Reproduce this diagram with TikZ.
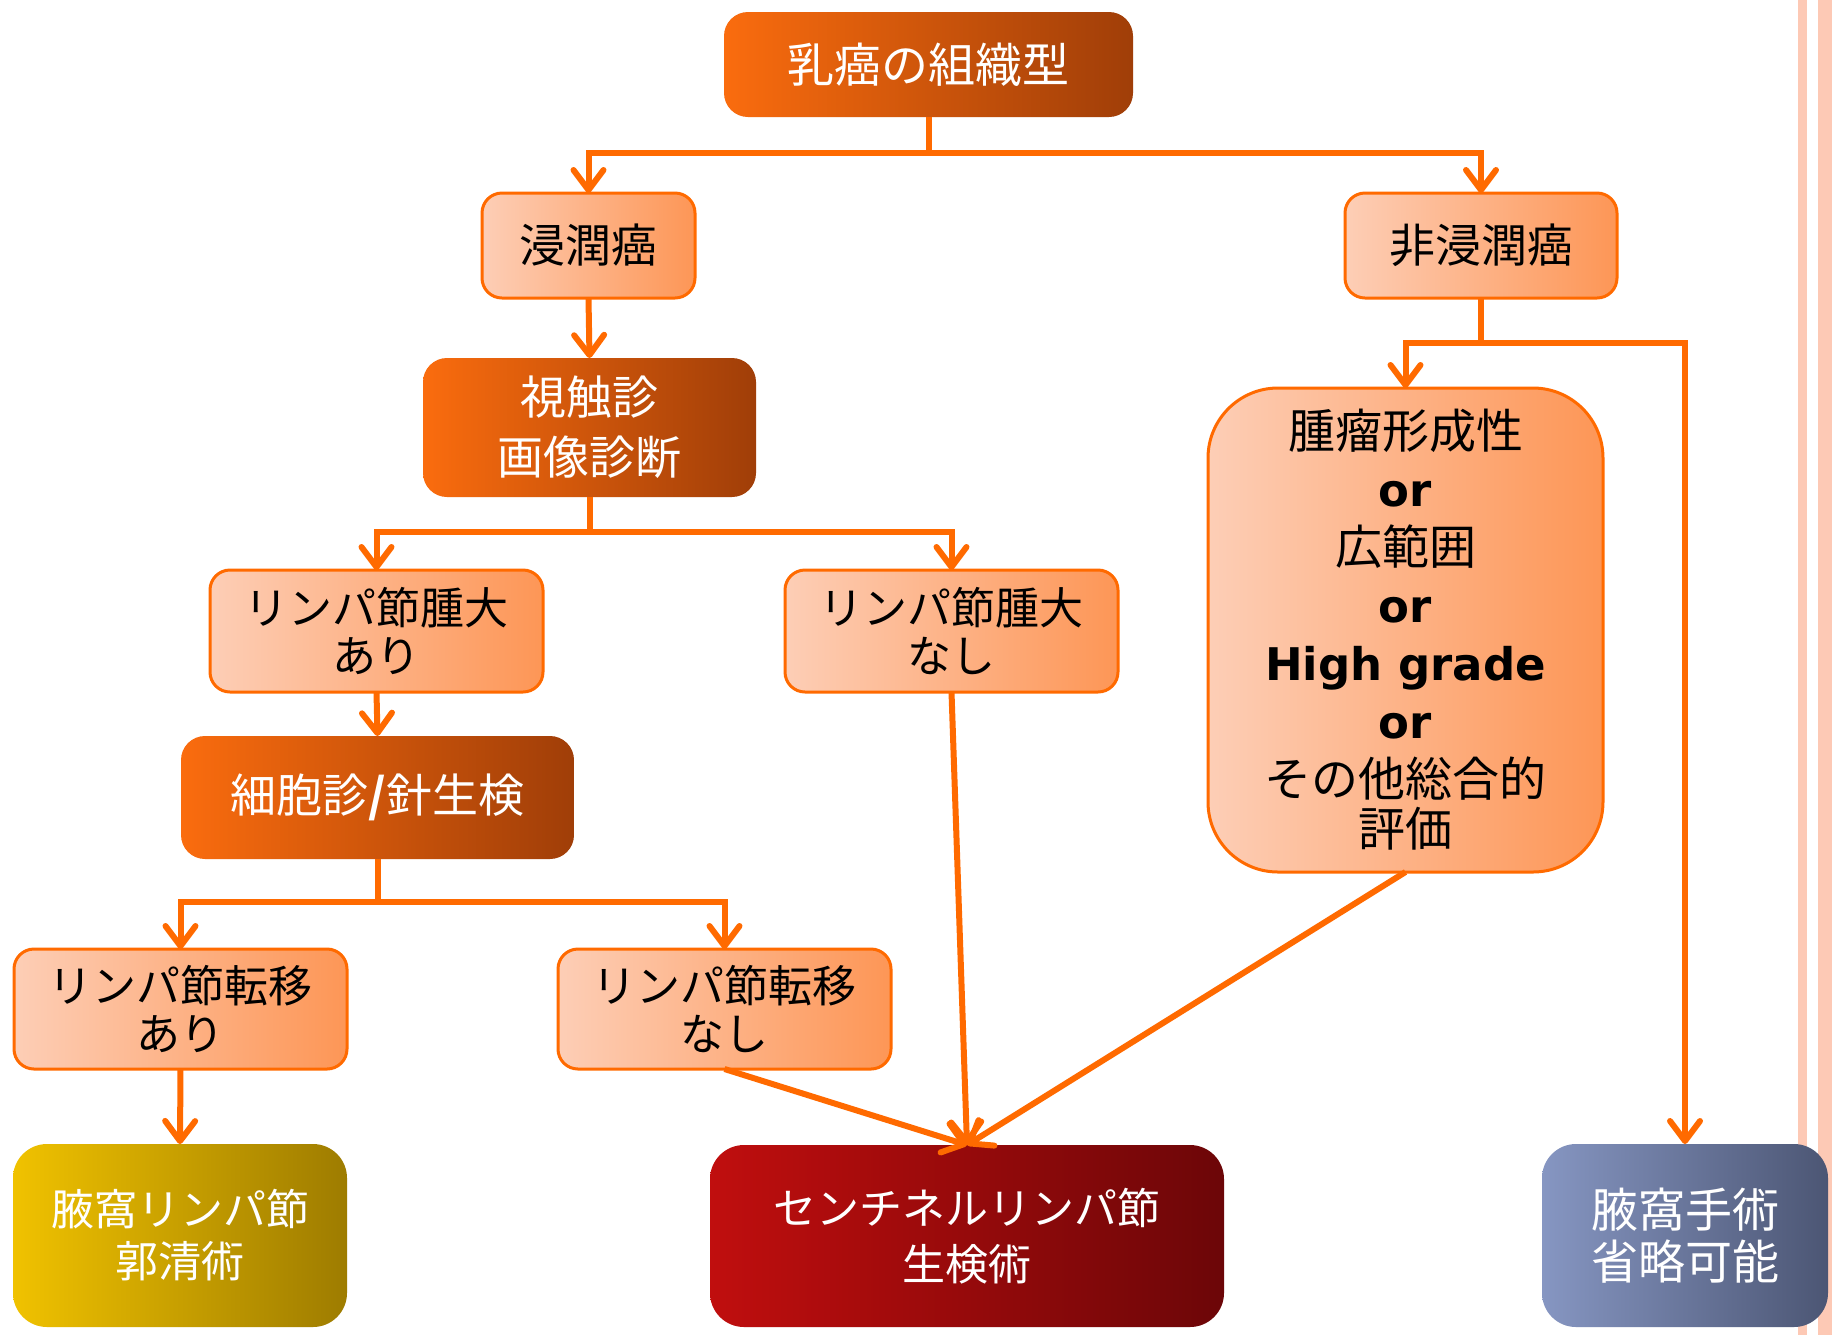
\documentclass[tikz,border=0pt]{standalone}
\usepackage{fontspec}
\setmainfont{Noto Sans CJK JP}
\newfontfamily\latinb{DejaVu Sans}
\usetikzlibrary{arrows.meta}
\definecolor{ln}{RGB}{255,106,0}
\definecolor{dko1}{RGB}{250,108,14}
\definecolor{dko2}{RGB}{160,62,8}
\definecolor{lt1}{RGB}{253,206,182}
\definecolor{lt2}{RGB}{253,150,86}
\definecolor{yl1}{RGB}{240,194,0}
\definecolor{yl2}{RGB}{158,124,0}
\definecolor{rd1}{RGB}{192,14,14}
\definecolor{rd2}{RGB}{108,6,8}
\definecolor{gb1}{RGB}{134,150,194}
\definecolor{gb2}{RGB}{76,86,116}
\definecolor{pinkbar}{RGB}{253,201,181}
\tikzset{
  base/.style={align=center, inner sep=0pt, outer sep=0pt},
  darkbox/.style={base, rounded corners=12pt, left color=dko1, right color=dko2, text=white, font=\fontsize{23}{30}\selectfont},
  lightbox/.style={base, draw=ln, line width=1.5pt, rounded corners=10pt, left color=lt1, right color=lt2, text=black, font=\fontsize{22}{24}\selectfont},
  yellowbox/.style={base, rounded corners=17pt, left color=yl1, right color=yl2, text=white, font=\fontsize{21.5}{26}\selectfont},
  redbox/.style={base, rounded corners=17pt, left color=rd1, right color=rd2, text=white, font=\fontsize{21.5}{28}\selectfont},
  graybox/.style={base, rounded corners=17pt, left color=gb1, right color=gb2, text=white, font=\fontsize{23.5}{26}\selectfont},
  wire/.style={draw=ln, line width=3pt},
  conn/.style={wire, -{Straight Barb[length=10pt,width=15pt,round]}}
}
\begin{document}
\begin{tikzpicture}[x=0.5pt,y=-0.5pt]
\useasboundingbox (0,0) rectangle (1832,1335);
\fill[white] (0,0) rectangle (1832,1335);
\fill[pinkbar] (1798,0) rectangle (1807,1335);
\fill[pinkbar] (1818,0) rectangle (1832,1335);

% nodes
\node[darkbox, font=\fontsize{23.5}{30}\selectfont, minimum width=204.5pt, minimum height=52.5pt] (top) at (928.5,64.5) {乳癌の組織型};
\node[lightbox, font=\fontsize{23}{28}\selectfont, minimum width=106.5pt, minimum height=52.5pt] (inv) at (588.5,245.5) {浸潤癌};
\node[lightbox, font=\fontsize{23}{28}\selectfont, minimum width=136pt, minimum height=52.5pt] (noninv) at (1481,245.5) {非浸潤癌};
\node[darkbox, minimum width=166.5pt, minimum height=69.5pt] (exam) at (589.5,427.5) {視触診\\画像診断};
\node[lightbox, minimum width=166.5pt, minimum height=61pt] (lnA) at (376.5,631) {リンパ節腫大\\あり};
\node[lightbox, minimum width=166.5pt, minimum height=61pt] (lnN) at (951.5,631) {リンパ節腫大\\なし};
\node[darkbox, minimum width=196.5pt, minimum height=61.5pt] (cyto) at (377.5,797.5) {細胞診{\bfseries /}針生検};
\node[lightbox, minimum width=166.5pt, minimum height=60pt] (mA) at (180.5,1009) {リンパ節転移\\あり};
\node[lightbox, minimum width=166.5pt, minimum height=60pt] (mN) at (724.5,1009) {リンパ節転移\\なし};
\node[lightbox, rounded corners=35pt, minimum width=197.5pt, minimum height=242pt, font=\fontsize{23.5}{29}\selectfont] (big) at (1405.5,630)
  {腫瘤形成性\\{\latinb\bfseries\fontsize{22.5}{29}\selectfont or}\\広範囲\\{\latinb\bfseries\fontsize{22.5}{29}\selectfont or}\\{\latinb\bfseries\fontsize{22.5}{29}\selectfont High grade}\\{\latinb\bfseries\fontsize{22.5}{29}\selectfont or}\\その他総合的\\[-4pt]評価};
\node[yellowbox, minimum width=167pt, minimum height=91.5pt] (axd) at (180,1235.5) {腋窩リンパ節\\郭清術};
\node[redbox, minimum width=257pt, minimum height=91pt] (sln) at (967,1236) {センチネルリンパ節\\生検術};
\node[graybox, minimum width=143pt, minimum height=91.5pt] (omit) at (1685,1235.5) {腋窩手術\\省略可能};

% junctions
\coordinate (j1) at (928.5,153);
\coordinate (j2) at (589.5,532);
\coordinate (j3) at (377.5,902);
\coordinate (j4) at (1481,343);

% connectors
\draw[wire] (top.south) -- (j1);
\draw[conn] (j1) -| (inv.north);
\draw[conn] (j1) -| (noninv.north);
\draw[conn] (inv.south) -- (exam.north);
\draw[wire] (exam.south) -- (j2);
\draw[conn] (j2) -| (lnA.north);
\draw[conn] (j2) -| (lnN.north);
\draw[conn] (lnA.south) -- (cyto.north);
\draw[wire] (cyto.south) -- (j3);
\draw[conn] (j3) -| (mA.north);
\draw[conn] (j3) -| (mN.north);
\draw[conn] (mA.south) -- (axd.north);
\draw[conn] (mN.south) -- (sln.north);
\draw[conn] (lnN.south) -- (sln.north);
\draw[conn] (big.south) -- (sln.north);
\draw[wire] (noninv.south) -- (j4);
\draw[conn] (j4) -| (big.north);
\draw[conn] (j4) -| (omit.north);
\end{tikzpicture}
\end{document}
